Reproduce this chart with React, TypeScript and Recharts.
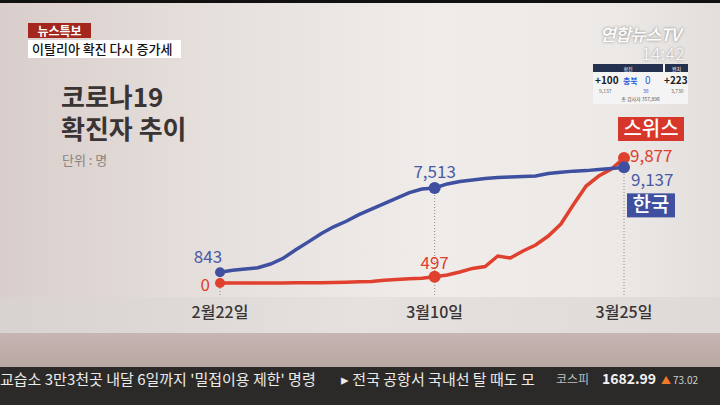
import React from "react";
import { LineChart, Line, XAxis, YAxis, ReferenceLine } from "recharts";

// daily dates, 2/22 .. 3/25
const dates = [
  "2월22일", "2월23일", "2월24일", "2월25일", "2월26일", "2월27일", "2월28일", "2월29일",
  "3월1일", "3월2일", "3월3일", "3월4일", "3월5일", "3월6일", "3월7일", "3월8일", "3월9일",
  "3월10일", "3월11일", "3월12일", "3월13일", "3월14일", "3월15일", "3월16일", "3월17일",
  "3월18일", "3월19일", "3월20일", "3월21일", "3월22일", "3월23일", "3월24일", "3월25일",
];
const korea = [
  843, 1000, 1100, 1200, 1500, 1950, 2620, 3250, 3890, 4440, 4880, 5400, 5830, 6270, 6700, 7140, 7420,
  7513, 7830, 8020, 8140, 8260, 8340, 8380, 8420, 8450, 8650, 8760, 8840, 8880, 8960, 9050, 9137,
];
const swiss = [
  0, 0, 0, 1, 1, 8, 15, 18, 24, 42, 56, 90, 114, 214, 268, 337, 374,
  497, 630, 870, 1150, 1300, 2130, 1975, 2530, 3000, 3710, 4660, 6200, 7660, 8450, 9000, 9877,
];
const tickDates = ["2월22일", "3월10일", "3월25일"];
const markIdx = [0, 17, 32];

const BLUE = "#3e509f";
const RED = "#e0402e";
const FONT = "'Noto Sans CJK KR', 'Noto Sans', sans-serif";

const data = dates.map((d, i) => ({ date: d, korea: korea[i], swiss: swiss[i] }));

const fmt = (v: number) => v.toLocaleString("en-US");

function makeDot(color: string) {
  return (p: any) => {
    if (!markIdx.includes(p.index)) return <g key={`d${p.index}`} />;
    const r = p.index === 0 ? 5 : 6;
    return <circle key={`d${p.index}`} cx={p.cx} cy={p.cy} r={r} fill={color} />;
  };
}

function koreaLabel(p: any) {
  const { x, y, value, index } = p;
  const st = { fontFamily: FONT, fontSize: 17, fill: "#4a5aa6" };
  if (index === 0)
    return <text key="k0" x={x - 12} y={y - 9} textAnchor="middle" style={st}>{fmt(value)}</text>;
  if (index === 17)
    return <text key="k17" x={x} y={y - 10} textAnchor="middle" style={st}>{fmt(value)}</text>;
  if (index === 32)
    return (
      <g key="k32">
        <text x={x + 7} y={y + 19} style={st}>{fmt(value)}</text>
        <rect x={x + 3} y={y + 26} width={48} height={24} fill={BLUE} />
        <text x={x + 27} y={y + 45} textAnchor="middle" style={{ fontFamily: FONT, fontSize: 20, fill: "#fff", fontWeight: 500 }}>한국</text>
      </g>
    );
  return <g key={`k${index}`} />;
}

function swissLabel(p: any) {
  const { x, y, value, index } = p;
  const st = { fontFamily: FONT, fontSize: 17, fill: RED };
  if (index === 0)
    return <text key="s0" x={x - 10} y={y + 8} textAnchor="end" style={st}>{fmt(value)}</text>;
  if (index === 17)
    return <text key="s17" x={x} y={y - 8} textAnchor="middle" style={st}>{fmt(value)}</text>;
  if (index === 32)
    return (
      <g key="s32">
        <text x={x + 6} y={y + 4} style={st}>{fmt(value)}</text>
        <rect x={x - 6} y={y - 41} width={66} height={24} fill="#d7372a" />
        <text x={x + 27} y={y - 22} textAnchor="middle" style={{ fontFamily: FONT, fontSize: 20, fill: "#fff", fontWeight: 500 }}>스위스</text>
      </g>
    );
  return <g key={`s${index}`} />;
}

// small absolutely placed text used in the status box
const T = (props: { l: number; t: number; s: number; c: string; b?: boolean; w?: number; children: React.ReactNode }) => (
  <div
    style={{
      position: "absolute",
      left: props.l,
      top: props.t,
      width: props.w,
      fontSize: props.s,
      lineHeight: `${props.s}px`,
      color: props.c,
      fontWeight: props.b ? 700 : 400,
      textAlign: props.w ? "center" : "left",
      whiteSpace: "nowrap",
    }}
  >
    {props.children}
  </div>
);

export default function App() {
  return (
    <div
      style={{
        position: "absolute",
        left: 0,
        top: 0,
        width: 720,
        height: 405,
        overflow: "hidden",
        fontFamily: FONT,
        background: "linear-gradient(90deg, #d9cecb 0%, #e6e0dd 30%, #efecea 60%, #ece9e7 85%, #e2dedc 100%)",
      }}
    >
      {/* top black edge */}
      <div style={{ position: "absolute", left: 0, top: 0, width: 720, height: 3, background: "#111" }} />
      {/* label band + pink strip */}
      <div style={{ position: "absolute", left: 0, top: 297, width: 720, height: 36, background: "linear-gradient(90deg, #d8d2d0, #e4e1df 50%, #dedad8)" }} />
      <div style={{ position: "absolute", left: 0, top: 333, width: 720, height: 34, background: "linear-gradient(180deg, #c6b5b2, #b9a7a4)" }} />
      {/* ticker */}
      <div style={{ position: "absolute", left: 0, top: 367, width: 720, height: 38, background: "#2b2a29" }} />
      <div style={{ position: "absolute", left: 0, top: 368, fontSize: 15, color: "#ecebea", whiteSpace: "nowrap" }}>
        교습소 3만3천곳 내달 6일까지 '밀접이용 제한' 명령
      </div>
      <div style={{ position: "absolute", left: 341, top: 368, fontSize: 15, color: "#ecebea", whiteSpace: "nowrap" }}>
        ▸ 전국 공항서 국내선 탈 때도 모
      </div>
      <div style={{ position: "absolute", left: 556, top: 370, fontSize: 12, color: "#bdbdbd" }}>코스피</div>
      <div style={{ position: "absolute", left: 602, top: 368, fontSize: 14, color: "#f2f2f2", fontWeight: 700 }}>1682.99</div>
      <div style={{ position: "absolute", left: 661, top: 372, fontSize: 10, color: "#f07a28" }}>▲</div>
      <div style={{ position: "absolute", left: 673, top: 372, fontSize: 10, color: "#cfcfcf" }}>73.02</div>

      {/* news tags */}
      <div style={{ position: "absolute", left: 28, top: 23, width: 63, height: 15, background: "#a3271c", color: "#fff", fontSize: 12, fontWeight: 700, lineHeight: "15px", textAlign: "center" }}>
        뉴스특보
      </div>
      <div style={{ position: "absolute", left: 28, top: 40, width: 153, height: 18, background: "#fff", color: "#111", fontSize: 13, fontWeight: 500, lineHeight: "18px", paddingLeft: 4, boxSizing: "border-box" }}>
        이탈리아 확진 다시 증가세
      </div>

      {/* brand + clock */}
      <div style={{ position: "absolute", left: 600, top: 25, fontSize: 17, lineHeight: "17px", color: "#fff", fontStyle: "italic", fontWeight: 500, letterSpacing: -0.5, textShadow: "0 0 3px rgba(0,0,0,0.45)" }}>
        연합뉴스TV
      </div>
      <div style={{ position: "absolute", left: 642, top: 45, fontSize: 16, lineHeight: "16px", color: "#fff", fontWeight: 300, letterSpacing: 1, textShadow: "0 0 3px rgba(0,0,0,0.45)" }}>
        14:42
      </div>
      {/* status table */}
      <div style={{ position: "absolute", left: 593, top: 64, width: 95, height: 40, background: "#f4f4f4" }}>
        <div style={{ position: "absolute", left: 0, top: 0, width: 70, height: 8, background: "#25324f" }} />
        <div style={{ position: "absolute", left: 72, top: 0, width: 23, height: 8, background: "#25324f" }} />
        <T l={0} t={2} s={5} c="#fff" w={70}>확진</T>
        <T l={72} t={2} s={5} c="#fff" w={23}>완치</T>
        <T l={2} t={11} s={10} c="#222" b>+100</T>
        <T l={6} t={24} s={5} c="#666">9,137</T>
        <T l={30} t={13} s={8} c="#2a5bd8" b>충북</T>
        <T l={52} t={11} s={10} c="#2a5bd8">0</T>
        <T l={50} t={24} s={5} c="#2a5bd8">38</T>
        <T l={71} t={11} s={10} c="#222" b>+223</T>
        <T l={78} t={24} s={5} c="#666">3,730</T>
        <T l={0} t={32} s={5} c="#555" w={95}>총 검사자 357,896</T>
      </div>

      {/* title */}
      <div style={{ position: "absolute", left: 61, top: 80, fontSize: 26, fontWeight: 700, color: "#3a3434", lineHeight: "32px" }}>
        코로나19
        <br />
        확진자 추이
      </div>
      <div style={{ position: "absolute", left: 62, top: 150, fontSize: 13, color: "#8a8381" }}>단위 : 명</div>

      <div style={{ position: "absolute", left: 0, top: 0 }}>
        <LineChart width={720} height={405} data={data} margin={{ top: 140, right: 96, bottom: 80, left: 220 }}>
          <XAxis
            dataKey="date"
            ticks={tickDates}
            interval={0}
            height={30}
            axisLine={false}
            tickLine={false}
            tickSize={0}
            tickMargin={12}
            tick={{ fontFamily: FONT, fontSize: 16, fill: "#3a3434", fontWeight: 500 }}
          />
          <YAxis hide domain={[-950, 11300]} allowDataOverflow />
          <ReferenceLine segment={[{ x: "2월22일", y: -950 }, { x: "2월22일", y: 0 }]} stroke="#8c8886" strokeDasharray="1 2" />
          <ReferenceLine segment={[{ x: "3월10일", y: -950 }, { x: "3월10일", y: 7513 }]} stroke="#8c8886" strokeDasharray="1 2" />
          <ReferenceLine segment={[{ x: "3월25일", y: -950 }, { x: "3월25일", y: 9137 }]} stroke="#8c8886" strokeDasharray="1 2" />
          <Line
            dataKey="swiss"
            type="linear"
            stroke={RED}
            strokeWidth={3.5}
            dot={makeDot(RED)}
            activeDot={false}
            label={swissLabel}
            isAnimationActive={false}
          />
          <Line
            dataKey="korea"
            type="linear"
            stroke={BLUE}
            strokeWidth={3.5}
            dot={makeDot(BLUE)}
            activeDot={false}
            label={koreaLabel}
            isAnimationActive={false}
          />
        </LineChart>
      </div>
    </div>
  );
}
